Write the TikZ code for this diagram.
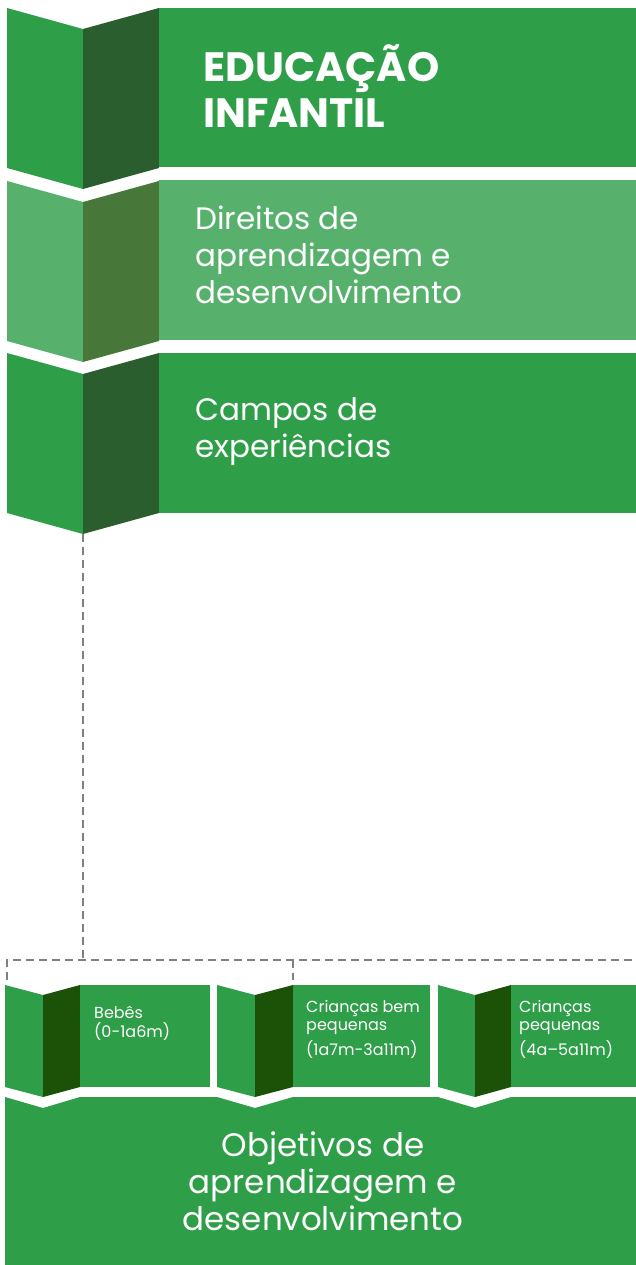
\documentclass[tikz,border=0pt]{standalone}
\usepackage{fontspec}
\setmainfont{Poppins}
\definecolor{gmain}{RGB}{46,158,72}
\definecolor{gdark}{RGB}{43,94,46}
\definecolor{glight}{RGB}{87,176,108}
\definecolor{glightdark}{RGB}{72,119,58}
\definecolor{gdeep}{RGB}{27,82,7}
\definecolor{dashgrey}{RGB}{128,128,128}
\begin{document}
\begin{tikzpicture}[x=1pt,y=-1pt,
  panel/.style={fill=#1,draw=none,inner sep=0pt,anchor=north west},
  bigtext/.style={text=white,inner sep=0pt,align=left,anchor=base west,font=\fontsize{31}{37}\selectfont},
  smalltext/.style={text=white,inner sep=0pt,align=left,anchor=base west,font=\fontsize{16}{18.5}\selectfont},
  dashline/.style={draw=dashgrey,line width=2.2pt,dash pattern=on 8pt off 5pt}]
\useasboundingbox (0,0) rectangle (636,1265);
% ---- block 1
\fill[gmain] (7,8) -- (83,29) -- (83,189) -- (7,168) -- cycle;
\fill[gdark] (83,29) -- (159,8) -- (159,168) -- (83,189) -- cycle;
\node[panel=gmain,minimum width=477pt,minimum height=159pt] (p1) at (159,8) {};
\node[text=white,inner sep=0pt,align=left,anchor=base west,font=\fontsize{41}{46}\selectfont\bfseries] (t1) at (203,128) {EDUCAÇÃO\\INFANTIL};
% ---- block 2
\fill[glight] (7,181) -- (83,202) -- (83,362) -- (7,341) -- cycle;
\fill[glightdark] (83,202) -- (159,181) -- (159,341) -- (83,362) -- cycle;
\node[panel=glight,minimum width=477pt,minimum height=160pt] (p2) at (159,180) {};
\node[bigtext] (t2) at (195,303) {Direitos de\\aprendizagem e\\desenvolvimento};
% ---- block 3
\fill[gmain] (7,353) -- (83,374) -- (83,534) -- (7,513) -- cycle;
\fill[gdark] (83,374) -- (159,353) -- (159,513) -- (83,534) -- cycle;
\node[panel=gmain,minimum width=477pt,minimum height=160pt] (p3) at (159,353) {};
\node[bigtext] (t3) at (195,457) {Campos de\\experiências};
\coordinate (c3) at (83,534);
% ---- dashed connector and bracket
\coordinate (j1) at (83,960);
\coordinate (tl) at (7,960);
\coordinate (bl) at (7,980);
\coordinate (tr) at (293,960);
\coordinate (br) at (293,980);
\coordinate (re) at (636,960);
\draw[dashline] (c3) -- (j1);
\draw[dashline] (bl) -- (tl) -- (re);
\draw[dashline] (tr) -- (br);
% ---- small block A
\fill[gmain] (5,985) -- (43,995) -- (43,1097) -- (5,1087) -- cycle;
\fill[gdeep] (43,995) -- (80,985) -- (80,1087) -- (43,1097) -- cycle;
\node[panel=gmain,minimum width=130pt,minimum height=102pt] (pa) at (80,985) {};
\node[smalltext] (ta) at (94,1037) {Bebês\\(0-1a6m)};
% ---- small block B
\fill[gmain] (217,985) -- (255,995) -- (255,1097) -- (217,1087) -- cycle;
\fill[gdeep] (255,995) -- (293,985) -- (293,1087) -- (255,1097) -- cycle;
\node[panel=gmain,minimum width=137pt,minimum height=102pt] (pb) at (293,985) {};
\node[smalltext] (tb) at (306,1055) {Crianças bem\\pequenas\\[4pt](1a7m-3a11m)};
% ---- small block C
\fill[gmain] (438,985) -- (475,995) -- (475,1097) -- (438,1087) -- cycle;
\fill[gdeep] (475,995) -- (511,985) -- (511,1087) -- (475,1097) -- cycle;
\node[panel=gmain,minimum width=125pt,minimum height=102pt] (pc) at (511,985) {};
\node[smalltext] (tc) at (519,1055) {Crianças\\pequenas\\[4pt](4a–5a11m)};
% ---- bottom block
\fill[gmain] (5,1097) -- (43,1108) -- (80,1097) -- (217,1097) -- (255,1108) -- (293,1097)
  -- (438,1097) -- (475,1108) -- (511,1097) -- (636,1097) -- (636,1265) -- (5,1265) -- cycle;
\node[text=white,inner sep=0pt,align=center,anchor=base,font=\fontsize{32.5}{37}\selectfont] (t4) at (323,1230) {Objetivos de\\aprendizagem e\\desenvolvimento};
\end{tikzpicture}
\end{document}
